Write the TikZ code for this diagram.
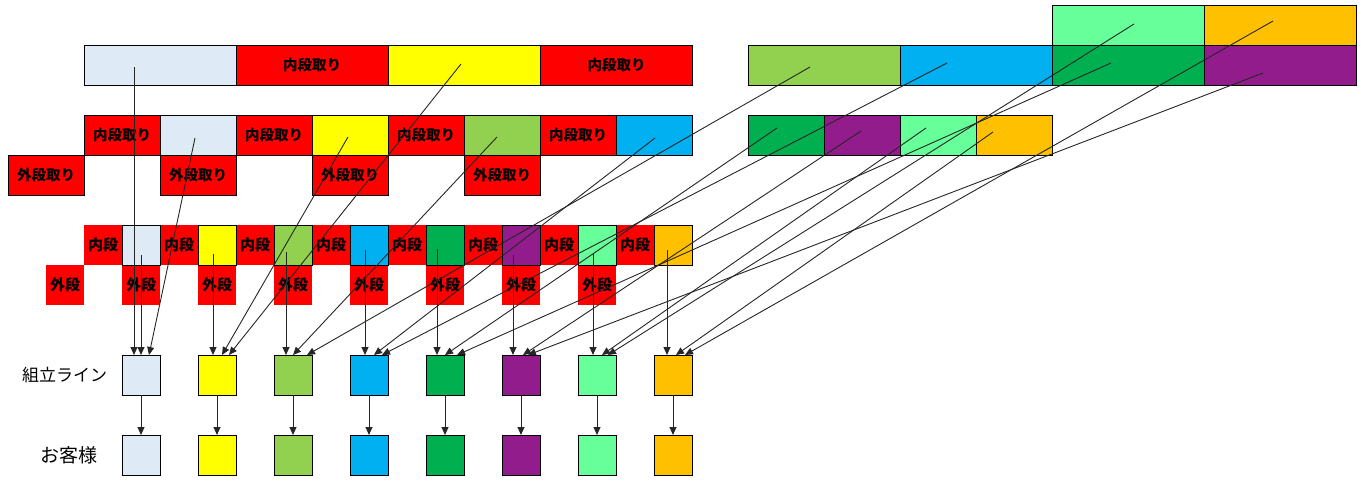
\documentclass[tikz,border=0pt]{standalone}
\usepackage{fontspec}
\newfontfamily\jp{Noto Sans CJK JP}
\usetikzlibrary{arrows.meta,calc}
\definecolor{cLB}{RGB}{222,235,247}
\definecolor{cRed}{RGB}{255,0,0}
\definecolor{cYe}{RGB}{255,255,0}
\definecolor{cGr}{RGB}{146,208,80}
\definecolor{cCy}{RGB}{0,176,240}
\definecolor{cDG}{RGB}{0,176,80}
\definecolor{cPu}{RGB}{146,28,140}
\definecolor{cLG}{RGB}{102,255,153}
\definecolor{cOr}{RGB}{255,192,0}
\tikzset{
  box/.style={draw=black, line width=1pt, inner sep=0pt, outer sep=0pt, minimum height=40pt},
  wbig/.style={minimum width=152pt},
  wmid/.style={minimum width=76pt},
  wsml/.style={minimum width=38pt},
  redtxt/.style={font=\jp\bfseries\fontsize{14.5}{14.5}\selectfont, text=black},
  cell/.style={fill=cRed, inner sep=0pt, outer sep=0pt, minimum width=38pt, minimum height=40pt,
    font=\jp\bfseries\fontsize{15}{15}\selectfont, text=black},
  arr/.style={draw=black!85, line width=0.9pt, -{Triangle[length=8pt,width=7pt]}},
  lbl/.style={font=\jp\fontsize{17}{17}\selectfont, anchor=west, inner sep=0pt}
}
\begin{document}
\begin{tikzpicture}[x=1pt,y=-1pt]
\useasboundingbox (0,0) rectangle (1366,480);
% ---- top row (batch of 2)
\node[box,wbig,fill=cLB] (t1) at (160,65) {};
\node[box,wbig,fill=cRed,redtxt] (t2) at (312,65) {内段取り};
\node[box,wbig,fill=cYe] (t3) at (464,65) {};
\node[box,wbig,fill=cRed,redtxt] (t4) at (616.5,65) {内段取り};
\node[box,wbig,fill=cGr] (t5) at (824,65) {};
\node[box,wbig,fill=cCy] (t6) at (976,65) {};
\node[box,wbig,fill=cDG] (t7) at (1128,65) {};
\node[box,wbig,fill=cPu] (t8) at (1280,65) {};
\node[box,wbig,fill=cLG] (t9) at (1128,25) {};
\node[box,wbig,fill=cOr] (t10) at (1280,25) {};
% ---- second row (batch of 1)
\node[box,wmid,fill=cRed,redtxt] (m1) at (122,135) {内段取り};
\node[box,wmid,fill=cLB] (m2) at (198,135) {};
\node[box,wmid,fill=cRed,redtxt] (m3) at (274,135) {内段取り};
\node[box,wmid,fill=cYe] (m4) at (350,135) {};
\node[box,wmid,fill=cRed,redtxt] (m5) at (426,135) {内段取り};
\node[box,wmid,fill=cGr] (m6) at (502,135) {};
\node[box,wmid,fill=cRed,redtxt] (m7) at (578,135) {内段取り};
\node[box,wmid,fill=cCy] (m8) at (654.5,135) {};
\node[box,wmid,fill=cDG] (m9) at (786,135) {};
\node[box,wmid,fill=cPu] (m10) at (862,135) {};
\node[box,wmid,fill=cLG] (m11) at (938,135) {};
\node[box,wmid,fill=cOr] (m12) at (1014,135) {};
\node[box,wmid,fill=cRed,redtxt] (o1) at (46,175) {外段取り};
\node[box,wmid,fill=cRed,redtxt] (o2) at (198,175) {外段取り};
\node[box,wmid,fill=cRed,redtxt] (o3) at (350,175) {外段取り};
\node[box,wmid,fill=cRed,redtxt] (o4) at (502,175) {外段取り};
% ---- third row (batch of 1/2)
\foreach \x [count=\i] in {103,179,255,331,407,483,559,635}
  \node[cell] (n\i) at (\x,245) {内段};
\foreach \x [count=\i] in {65,141,217,293,369,445,521,597}
  \node[cell] (g\i) at (\x,285) {外段};
\foreach \x/\c [count=\i] in {141/cLB,217/cYe,293/cGr,369/cCy,445/cDG,521/cPu,597/cLG,673/cOr}
  \node[box,wsml,fill=\c] (s\i) at (\x,245) {};
% ---- assembly line and customers
\foreach \x/\c [count=\i] in {141/cLB,217/cYe,293/cGr,369/cCy,445/cDG,521/cPu,597/cLG,673/cOr}{
  \node[box,wsml,fill=\c] (a\i) at (\x,375) {};
  \node[box,wsml,fill=\c] (c\i) at (\x,455) {};
}
\node[lbl] (lblA) at (22,375) {組立ライン};
\node[lbl,font=\jp\fontsize{19}{19}\selectfont] (lblC) at (40,455) {お客様};
\foreach \i in {1,...,8}
  \draw[arr] (a\i.south) -- (c\i.north);
% ---- start points
\coordinate (pT1) at (134,67);
\coordinate (pT3) at (461,64);
\coordinate (pT5) at (810,67);
\coordinate (pT6) at (947,63);
\coordinate (pT7) at (1111,63);
\coordinate (pT8) at (1263,73);
\coordinate (pT9) at (1134,24);
\coordinate (pT10) at (1273,21);
\coordinate (pM2) at (195,138);
\coordinate (pM4) at (348,137);
\coordinate (pM6) at (497,137);
\coordinate (pM8) at (655,138);
\coordinate (pM9) at (777,128);
\coordinate (pM10) at (861,131);
\coordinate (pM11) at (926,128);
\coordinate (pM12) at (993,132);
% ---- connectors into the assembly line
% light blue
\draw[arr] (pT1) -- ($(a1.north)+(-7,0)$);
\draw[arr] ($(s1.center)+(0,10)$) -- (a1.north);
\draw[arr] (pM2) -- ($(a1.north)+(8,0)$);
% yellow
\draw[arr] ($(s2.center)+(-4,9)$) -- ($(a2.north)+(-4,0)$);
\draw[arr] (pM4) -- ($(a2.north)+(5,0)$);
\draw[arr] (pT3) -- ($(a2.north)+(12,0)$);
% green
\draw[arr] ($(s3.center)+(-7,7)$) -- ($(a3.north)+(-7,0)$);
\draw[arr] (pM6) -- (a3.north);
\draw[arr] (pT5) -- ($(a3.north)+(14,0)$);
% cyan
\draw[arr] ($(s4.center)+(-4,5)$) -- ($(a4.north)+(-4,0)$);
\draw[arr] (pM8) -- ($(a4.north)+(5,0)$);
\draw[arr] (pT6) -- ($(a4.north)+(13,0)$);
% dark green
\draw[arr] ($(s5.center)+(-8,4)$) -- ($(a5.north)+(-8,0)$);
\draw[arr] (pM9) -- (a5.north);
\draw[arr] (pT7) -- ($(a5.north)+(12,0)$);
% purple
\draw[arr] ($(s6.center)+(-8,10)$) -- ($(a6.north)+(-8,0)$);
\draw[arr] (pM10) -- ($(a6.north)+(2,0)$);
\draw[arr] (pT8) -- ($(a6.north)+(7,0)$);
% light green
\draw[arr] ($(s7.center)+(-4,9)$) -- ($(a7.north)+(-4,0)$);
\draw[arr] (pM11) -- ($(a7.north)+(5,0)$);
\draw[arr] (pT9) -- ($(a7.north)+(11,0)$);
% orange
\draw[arr] ($(s8.center)+(-6,5)$) -- ($(a8.north)+(-6,0)$);
\draw[arr] (pM12) -- ($(a8.north)+(3,0)$);
\draw[arr] (pT10) -- ($(a8.north)+(12,0)$);
\end{tikzpicture}
\end{document}
